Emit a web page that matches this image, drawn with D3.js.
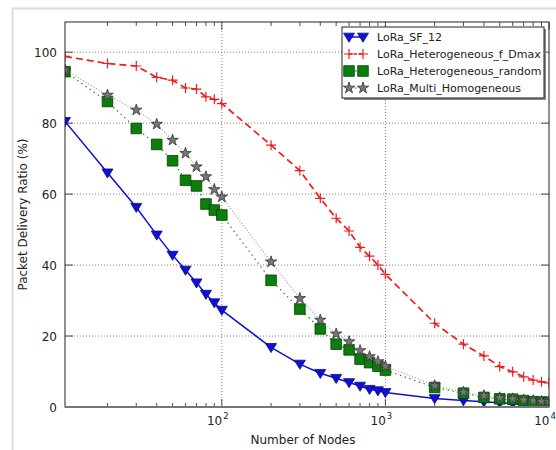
<!DOCTYPE html>
<html>
<head>
<meta charset="utf-8"/>
<title>Packet Delivery Ratio</title>
<script src="https://d3js.org/d3.v7.min.js"></script>
<style>
  body { margin: 0; background: #fff; }
  svg { font-family: "DejaVu Sans", sans-serif; }
</style>
</head>
<body>
<div id="chart"></div>
<script>
// node counts on the x axis (first point sits on the left edge)
var nodes = [11, 20, 30, 40, 50, 60, 70, 80, 90, 100,
             200, 300, 400, 500, 600, 700, 800, 900, 1000,
             2000, 3000, 4000, 5000, 6000, 7000, 8000, 9000, 10000];

var sf12 = [80.5, 66, 56.3, 48.5, 42.8, 38.6, 35, 31.8, 29.4, 27.3,
            16.8, 12.1, 9.5, 8.1, 6.9, 5.9, 5, 4.6, 4.1,
            2.4, 1.8, 1.5, 1.2, 1.0, 0.9, 0.8, 0.7, 0.6];

var dmax = [98.8, 96.8, 96.1, 92.9, 92.1, 89.9, 89.6, 87.4, 86.7, 85.5,
            73.8, 66.6, 58.8, 53.2, 49.6, 45, 42.5, 40, 37.4,
            23.6, 17.7, 14.4, 11.4, 9.9, 8.5, 7.6, 7.1, 6.8];

var hetRandom = [94.5, 86.1, 78.5, 74, 69.4, 63.9, 62.3, 57.2, 55.5, 54.1,
                 35.7, 27.6, 22, 17.7, 16.1, 13.5, 12.5, 11.5, 10.4,
                 5.5, 3.9, 2.7, 2.3, 2.2, 1.8, 1.5, 1.4, 1.3];

var multiHomo = [95, 87.9, 83.7, 79.7, 75.2, 71.5, 67.7, 64.9, 61.3, 59.2,
                 40.9, 30.6, 24.5, 20.6, 18.4, 15.9, 14.2, 12.8, 11.5,
                 6.0, 4.2, 3.2, 2.6, 2.3, 2.0, 1.8, 1.6, 1.5];

var seriesNames = ["LoRa_SF_12", "LoRa_Heterogeneous_f_Dmax",
                   "LoRa_Heterogeneous_random", "LoRa_Multi_Homogeneous"];

var yTicks = [0, 20, 40, 60, 80, 100];
var xMajorExp = [2, 3, 4];

var W = 556, H = 450;
var margin = {left: 65, top: 22, right: 8, bottom: 43};

var svg = d3.select('#chart').append('svg')
  .attr('width', W).attr('height', H);

// light frame around the figure
svg.append('rect')
  .attr('x', 12.5).attr('y', 8.5)
  .attr('width', 600).attr('height', 500)
  .attr('fill', 'none').attr('stroke', '#dcdcdc').attr('stroke-width', 2);

var x = d3.scaleLog().domain([11, 10000]).range([margin.left, 549]);
var y = d3.scaleLinear().domain([0, 108.5]).range([407, margin.top]);

var x0 = x.range()[0], x1 = x.range()[1], y0 = y.range()[0], y1 = y.range()[1];

svg.append('clipPath').attr('id', 'clip')
  .append('rect').attr('x', x0).attr('y', y1).attr('width', x1 - x0).attr('height', y0 - y1);

// grid
var grid = svg.append('g');
yTicks.forEach(function(t){
  if (t == 0) return;
  grid.append('line').attr('x1', x0).attr('x2', x1).attr('y1', y(t)).attr('y2', y(t))
    .attr('stroke', '#666').attr('stroke-width', 0.8).attr('stroke-dasharray', '1,2');
});
xMajorExp.forEach(function(e){
  var v = Math.pow(10, e);
  if (v >= 10000) return;
  grid.append('line').attr('x1', x(v)).attr('x2', x(v)).attr('y1', y0).attr('y2', y1)
    .attr('stroke', '#666').attr('stroke-width', 0.8).attr('stroke-dasharray', '1,2');
});

// ticks (inward, all four sides)
var ticks = svg.append('g').attr('stroke', '#222').attr('stroke-width', 0.8);
x.ticks().forEach(function(v){
  var major = Math.abs(Math.log10(v) - Math.round(Math.log10(v))) < 1e-9;
  var len = major ? 8 : 4;
  ticks.append('line').attr('x1', x(v)).attr('x2', x(v)).attr('y1', y0).attr('y2', y0 - len);
  ticks.append('line').attr('x1', x(v)).attr('x2', x(v)).attr('y1', y1).attr('y2', y1 + len);
});
yTicks.forEach(function(t){
  ticks.append('line').attr('x1', x0).attr('x2', x0 + 8).attr('y1', y(t)).attr('y2', y(t));
  ticks.append('line').attr('x1', x1).attr('x2', x1 - 8).attr('y1', y(t)).attr('y2', y(t));
});

// tick labels
var labels = svg.append('g').attr('fill', '#222').attr('font-size', 12);
yTicks.forEach(function(t){
  labels.append('text').attr('x', x0 - 8).attr('y', y(t) + 4.5)
    .attr('text-anchor', 'end').text(t);
});
xMajorExp.forEach(function(e){
  var tx = labels.append('text').attr('x', x(Math.pow(10, e)) - 4).attr('y', 425)
    .attr('text-anchor', 'middle');
  tx.append('tspan').text('10');
  tx.append('tspan').attr('font-size', 8.5).attr('dy', -6).attr('dx', 1).text(e);
});

labels.append('text').attr('x', (x0 + x1) / 2 - 4).attr('y', 444)
  .attr('text-anchor', 'middle').text('Number of Nodes');
labels.append('text')
  .attr('transform', 'translate(27,' + ((y0 + y1) / 2) + ') rotate(-90)')
  .attr('text-anchor', 'middle').text('Packet Delivery Ratio (%)');

// series
var styles = [
  {data: sf12, color: '#1010d0', width: 1.5, dash: null, marker: 'tri', fill: '#1010d0', stroke: '#0a0a90', size: 5.5},
  {data: dmax, color: '#ee1c1c', width: 1.7, dash: '7,4', marker: 'plus', fill: 'none', stroke: '#ee1c1c', size: 5},
  {data: hetRandom, color: '#228b22', width: 1.2, dash: '1.5,3.5', marker: 'square', fill: '#0a800a', stroke: '#063d06', size: 5.3},
  {data: multiHomo, color: '#9a9a9a', width: 1.2, dash: '1,2', marker: 'star', fill: '#777', stroke: '#333', size: 4.5}
];

function markerPath(kind, s){
  if (kind == 'tri') return 'M' + (-s) + ',' + (-s * 0.7) + 'L' + s + ',' + (-s * 0.7) + 'L0,' + (s * 0.95) + 'Z';
  if (kind == 'plus') return 'M' + (-s) + ',0H' + s + 'M0,' + (-s) + 'V' + s;
  if (kind == 'square') return 'M' + (-s) + ',' + (-s) + 'h' + (2 * s) + 'v' + (2 * s) + 'h' + (-2 * s) + 'Z';
  return d3.symbol().type(d3.symbolStar).size(s * s * 2)();
}

var plot = svg.append('g').attr('clip-path', 'url(#clip)');
var line = d3.line().x(function(d){ return x(d[0]); }).y(function(d){ return y(d[1]); });

styles.forEach(function(st){
  var pts = nodes.map(function(n, i){ return [n, st.data[i]]; });
  var g = plot.append('g');
  g.append('path').attr('d', line(pts)).attr('fill', 'none')
    .attr('stroke', st.color).attr('stroke-width', st.width)
    .attr('stroke-dasharray', st.dash);
  g.selectAll('path.m').data(pts).enter().append('path')
    .attr('class', 'm')
    .attr('transform', function(d){ return 'translate(' + x(d[0]) + ',' + y(d[1]) + ')'; })
    .attr('d', markerPath(st.marker, st.size))
    .attr('fill', st.fill).attr('stroke', st.stroke)
    .attr('stroke-width', st.marker == 'plus' ? 1.2 : 0.8);
});

// spines
svg.append('rect').attr('x', x0).attr('y', y1).attr('width', x1 - x0).attr('height', y0 - y1)
  .attr('fill', 'none').attr('stroke', '#222').attr('stroke-width', 1);
svg.append('line').attr('x1', x0).attr('x2', x1).attr('y1', y0).attr('y2', y0)
  .attr('stroke', '#777').attr('stroke-width', 2);

// legend
var lg = svg.append('g').attr('transform', 'translate(342,27)');
lg.append('rect').attr('x', 2).attr('y', 2).attr('width', 202).attr('height', 71).attr('fill', '#888');
lg.append('rect').attr('x', 0).attr('y', 0).attr('width', 202).attr('height', 71)
  .attr('fill', '#fff').attr('stroke', '#222').attr('stroke-width', 1);
styles.forEach(function(st, i){
  var ly = 10 + i * 17;
  lg.append('line').attr('x1', 7).attr('x2', 21).attr('y1', ly).attr('y2', ly)
    .attr('stroke', st.color).attr('stroke-width', st.width).attr('stroke-dasharray', st.dash ? '3,2' : null);
  [7, 21].forEach(function(mx){
    lg.append('path').attr('transform', 'translate(' + mx + ',' + ly + ')')
      .attr('d', markerPath(st.marker, st.size))
      .attr('fill', st.fill).attr('stroke', st.stroke)
      .attr('stroke-width', st.marker == 'plus' ? 1.2 : 0.8);
  });
  lg.append('text').attr('x', 35).attr('y', ly + 4).attr('font-size', 11)
    .attr('fill', '#222').text(seriesNames[i]);
});
</script>
</body>
</html>
